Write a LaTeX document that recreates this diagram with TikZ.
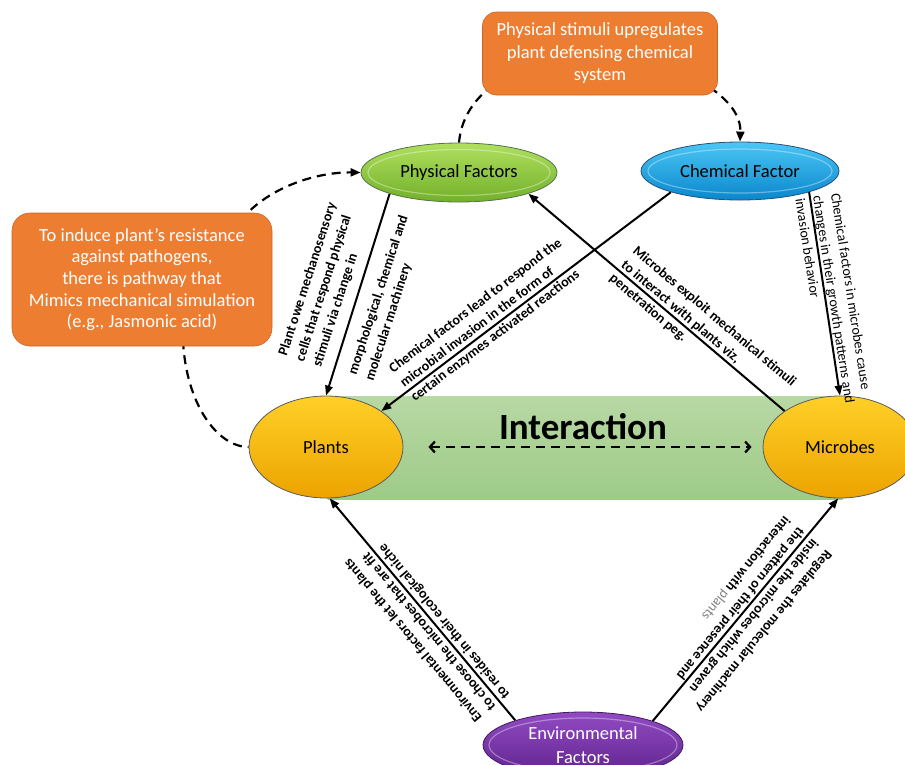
\documentclass[tikz,border=0pt]{standalone}
\usepackage{fontspec}
\setmainfont{Carlito}
\usetikzlibrary{shapes.geometric,arrows.meta,calc}
\pgfdeclarelayer{bandlayer}
\pgfdeclarelayer{connlayer}
\pgfsetlayers{bandlayer,connlayer,main}
\definecolor{boxorange}{RGB}{237,125,49}
\definecolor{boxedge}{RGB}{205,100,35}
\definecolor{bandtop}{RGB}{184,216,164}
\definecolor{bandbot}{RGB}{158,203,136}
\definecolor{greentop}{RGB}{175,224,95}
\definecolor{greenbot}{RGB}{115,176,42}
\definecolor{greenedge}{RGB}{85,115,75}
\definecolor{bluetop}{RGB}{75,198,245}
\definecolor{bluebot}{RGB}{10,135,205}
\definecolor{blueedge}{RGB}{40,80,120}
\definecolor{yeltop}{RGB}{255,208,40}
\definecolor{yelbot}{RGB}{236,163,0}
\definecolor{yeledge}{RGB}{90,90,90}
\definecolor{purtop}{RGB}{145,75,195}
\definecolor{purbot}{RGB}{95,35,140}
\begin{document}
\begin{tikzpicture}[x=1pt,y=-1pt,
  obox/.style={rectangle, fill=boxorange, draw=boxedge, line width=0.6pt,
    text=white, align=center, inner sep=0pt},
  ell/.style={ellipse, inner sep=0pt, line width=0.8pt, align=center,
    font=\fontsize{18.5}{22}\selectfont},
  bevel/.style 2 args={path picture={\draw[white, opacity=0.35, line width=1.2pt]
    (path picture bounding box.center) ellipse [x radius=#1pt, y radius=#2pt];}},
  conn/.style={line width=2pt, -{Triangle[length=10pt,width=7.5pt]}},
  dconn/.style={line width=2.2pt, dash pattern=on 9pt off 6pt},
  dtip/.style={-{Triangle[length=10pt,width=8pt]}},
  lbl/.style={font=\bfseries\fontsize{14}{18}\selectfont, align=left, inner sep=0pt}]
\useasboundingbox (0,0) rectangle (905,764);
\clip (0,0) rectangle (905,764);

% background band
\begin{pgfonlayer}{bandlayer}
\node[rectangle, top color=bandtop, bottom color=bandbot, draw=none,
  minimum width=515pt, minimum height=103pt, inner sep=0pt] (band) at (585,447.5) {};
\end{pgfonlayer}

% boxes
\node[obox, rounded corners=14pt, minimum width=235pt, minimum height=83pt,
  font=\fontsize{18.5}{22.5}\selectfont] (topbox) at (600,53.5)
  {Physical stimuli upregulates\\plant defensing chemical\\system};
\node[obox, rounded corners=18pt, minimum width=260pt, minimum height=133pt,
  font=\fontsize{18.5}{21.7}\selectfont] (leftbox) at (142,279.5)
  {To induce plant’s resistance\\against pathogens,\\there is pathway that\\Mimics mechanical simulation\\(e.g., Jasmonic acid)};

% ellipses
\node[ell, top color=greentop, bottom color=greenbot, draw=greenedge, bevel={91}{23},
  minimum width=196pt, minimum height=59pt] (phys) at (459,172.5) {Physical Factors};
\node[ell, top color=bluetop, bottom color=bluebot, draw=blueedge, bevel={92}{22},
  minimum width=198pt, minimum height=58pt] (chem) at (740,171) {Chemical Factor};
\node[ell, top color=yeltop, bottom color=yelbot, draw=yeledge,
  minimum width=154pt, minimum height=102pt] (plants) at (326,447) {Plants};
\node[ell, top color=yeltop, bottom color=yelbot, draw=yeledge,
  minimum width=154pt, minimum height=102pt] (microbes) at (840,447) {Microbes};
\node[ell, top color=purtop, bottom color=purbot, draw=purbot!70!black, text=white,
  bevel={94}{27}, minimum width=200pt, minimum height=66pt,
  font=\fontsize{18.5}{24}\selectfont] (env) at (583,745) {Environmental\\Factors};

\node[font=\bfseries\fontsize{37}{42}\selectfont, inner sep=0pt] (itext) at (583,427) {Interaction};

% connectors
\begin{pgfonlayer}{connlayer}
\draw[conn] (phys.197) -- (plants.north);
\draw[conn] (chem.197) -- (plants.33);
\draw[conn] (microbes.147) -- (phys.343);
\draw[conn] (chem.343) -- (microbes.north);
\draw[conn] (env.160) -- (plants.274);
\draw[conn] (env.19) -- (microbes.268);
\draw[dconn] (phys.north) .. controls (461,120) and (472,102) .. ([shift={(8,-8)}]topbox.south west);
\draw[dconn, dtip] ([shift={(-8,-8)}]topbox.south east) .. controls (728,100) and (741,115) .. (chem.north);
\draw[dconn, dtip] ([shift={(-32,8)}]leftbox.north east) .. controls (270,185) and (320,172) .. (phys.west);
\draw[dconn] ([shift={(41,-6)}]leftbox.south) .. controls (186,405) and (218,447) .. (plants.west);
\draw[dconn, {Straight Barb[length=5pt,width=11pt]}-{Straight Barb[length=5pt,width=11pt]},
  shorten <=25pt, shorten >=11pt] (plants.east) -- (microbes.west);
\end{pgfonlayer}

% labels
\node[lbl, rotate=72] (l1) at (325,285)
  {Plant owe mechanosensory\\cells that respond physical\\stimuli via change in};
\node[lbl, rotate=72] (l2) at (387,298)
  {morphological, chemical and\\molecular machinery};
\node[lbl, rotate=37.2] (l3) at (486.6,320.3)
  {Chemical factors lead to respond the\\microbial invasion in the form of\\certain enzymes activated reactions};
\node[lbl, rotate=-40.2] (l4) at (702.6,330.6)
  {Microbes exploit mechanical stimuli\\to interact with plants viz,\\penetration peg.};
\node[lbl, font=\fontsize{14}{18}\selectfont, rotate=-81.1] (l5) at (834,299.5)
  {Chemical factors in microbes cause\\changes in their growth patterns and\\invasion behavior};
\node[lbl, rotate=129.7] (l6) at (427,628.7)
  {Environmental factors let the plants\\to choose the microbes that are fit\\to resides in their ecological niche};
\node[lbl, rotate=-129.4] (l7) at (743,614)
  {Regulates the molecular machinery\\inside the microbes which graven\\the pattern of their presence and\\interaction with {\mdseries\color{gray}plants}};
\end{tikzpicture}
\end{document}
